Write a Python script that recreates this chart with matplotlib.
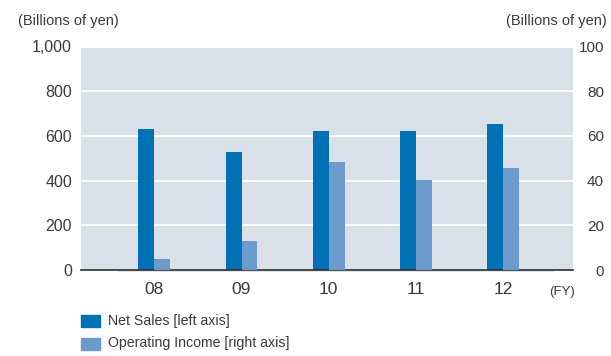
import numpy as np
import matplotlib
matplotlib.use("Agg")
import matplotlib.pyplot as plt

plt.rcParams['font.family'] = ['Liberation Sans', 'DejaVu Sans']

years = ["08", "09", "10", "11", "12"]
net_sales = [631, 528, 622, 621, 653]          # left axis, billions of yen
operating_income = [5.0, 13.0, 48.3, 40.2, 45.6]  # right axis, billions of yen
left_ticks = [0, 200, 400, 600, 800, 1000]
right_ticks = [0, 20, 40, 60, 80, 100]

c_sales = "#0071b4"
c_income = "#6a9bcb"
bg = "#d9e0e7"
txt = "#3a3a3a"

fig = plt.figure(figsize=(6.11, 3.56), dpi=100)
ax = fig.add_axes([81 / 611, 1 - 270 / 356, 492 / 611, 223.5 / 356])
ax2 = ax.twinx()

x = np.arange(len(years))
w = 0.183
ax.set_facecolor(bg)
ax.set_axisbelow(True)
ax.bar(x - w / 2, net_sales, width=w, color=c_sales, zorder=3)
ax2.bar(x + w / 2, operating_income, width=w, color=c_income, zorder=3)

ax.set_xlim(-0.84, 4.8)
ax.set_ylim(0, 1000)
ax2.set_ylim(0, 100)

ax.set_yticks(left_ticks)
ax.set_yticklabels([f"{v:,}" for v in left_ticks])
ax2.set_yticks(right_ticks)
ax2.set_yticklabels([str(v) for v in right_ticks])
for lab in ax2.get_yticklabels():
    lab.set_horizontalalignment("right")

ax.grid(axis="y", color="white", linewidth=1.4, zorder=1)
ax.set_xticks(x)
ax.set_xticklabels(years)

ax.tick_params(axis="y", length=0, pad=6.5, labelsize=11.5, labelcolor=txt)
ax.tick_params(axis="x", length=0, pad=8.5, labelsize=12.5, labelcolor=txt)
ax2.tick_params(axis="y", length=0, pad=22.3, labelsize=11, labelcolor=txt)

for a in (ax, ax2):
    for side in ("top", "left", "right", "bottom"):
        a.spines[side].set_visible(False)
ax.axhline(0, color="#2a2a2a", linewidth=1.2, zorder=5, clip_on=False)
# faint shadow under the baseline
fig.add_artist(plt.Line2D([118 / 611, 553 / 611], [1 - 271.3 / 356] * 2,
                          color="#cdd7e0", linewidth=0.5))

fig.text(18 / 611, 1 - 21 / 356, "(Billions of yen)", fontsize=10.5, color=txt,
         ha="left", va="center")
fig.text(607 / 611, 1 - 21 / 356, "(Billions of yen)", fontsize=10.5, color=txt,
         ha="right", va="center")
fig.text(575 / 611, 1 - 292 / 356, "(FY)", fontsize=9.5, color=txt,
         ha="right", va="center")

# legend
for i, (lbl, col) in enumerate([("Net Sales [left axis]", c_sales),
                                 ("Operating Income [right axis]", c_income)]):
    yc = 321 + i * 22.5
    fig.patches.append(plt.Rectangle((81 / 611, 1 - (yc + 6) / 356), 19 / 611, 12 / 356,
                                     transform=fig.transFigure, color=col))
    fig.text(108 / 611, 1 - yc / 356, lbl, fontsize=10.2, color=txt,
             ha="left", va="center")

fig.savefig("out.png", dpi=100)
